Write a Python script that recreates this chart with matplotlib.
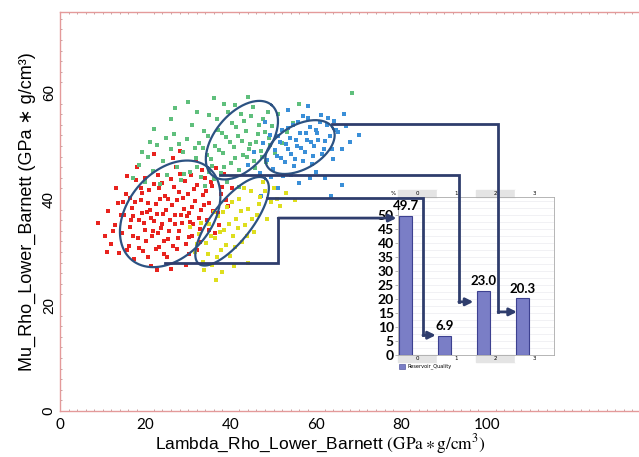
import numpy as np
import matplotlib
matplotlib.use("Agg")
import matplotlib.pyplot as plt
from matplotlib.patches import Rectangle

plt.rcParams['mathtext.fontset'] = 'stix'

# cluster points (Lambda-Rho, Mu-Rho)
red_x = [9.0, 10.5, 11.2, 12.0, 12.8, 13.5, 13.9, 14.6, 15.0, 15.4, 16.1, 16.5, 16.9, 17.3, 17.8, 18.2,
         18.6, 19.0, 19.5, 19.9, 20.3, 20.8, 21.2, 21.6, 22.0, 22.4, 22.9, 23.3, 23.7, 24.1, 24.6, 25.0,
         25.4, 25.8, 26.2, 26.7, 27.1, 27.5, 27.9, 28.4, 28.8, 29.2, 29.6, 30.1, 30.5, 30.9, 31.4, 31.8,
         32.2, 32.7, 33.1, 33.6, 34.0, 34.5, 35.0, 35.6, 36.2, 36.9, 37.6, 38.4, 39.3, 40.2, 18.0, 22.0,
         15.8, 13.0, 20.5, 26.0, 24.0, 28.0, 11.0, 17.0, 21.0, 23.0, 27.0, 19.2, 25.3, 29.8, 31.0,
         14.2, 15.6, 16.3, 17.1, 17.6, 18.4, 18.9, 19.6, 20.1, 20.6, 21.4, 21.9, 22.5, 22.7, 23.5, 23.9,
         24.4, 24.8, 25.6, 25.9, 26.4, 26.9, 27.3, 27.7, 28.1, 28.6, 29.0, 29.4, 29.9, 30.3, 30.7, 31.2,
         31.6, 32.0, 32.5, 32.9, 33.3, 33.8, 34.3, 34.8, 35.3, 35.9, 36.6, 37.3, 38.0, 38.8, 16.7, 19.3,
         21.8, 23.2, 24.3, 27.8, 30.2, 12.3, 14.8, 20.0, 26.5, 22.6]
red_y = [35.5, 33.0, 37.8, 31.5, 35.0, 39.2, 29.8, 33.6, 36.9, 41.0, 31.2, 34.8, 38.3, 28.6, 43.5, 32.7,
         36.0, 39.8, 30.1, 34.2, 37.5, 41.7, 27.4, 33.1, 35.8, 39.0, 44.6, 31.0, 34.5, 37.2, 40.5, 29.0,
         32.4, 36.1, 38.8, 42.3, 46.0, 30.6, 34.0, 37.0, 40.1, 43.4, 27.6, 32.8, 35.6, 38.5, 41.8, 47.5,
         30.3, 34.4, 37.9, 40.7, 44.0, 36.0, 39.3, 42.5, 33.5, 37.4, 40.9, 44.7, 38.6, 42.0, 46.0, 48.5,
         44.3, 42.0, 29.0, 26.8, 43.0, 49.0, 30.0, 36.8, 38.0, 33.6, 35.2, 41.2, 40.0, 36.7, 33.0,
         37.0, 30.4, 40.2, 33.0, 39.5, 30.8, 42.1, 35.4, 32.0, 39.2, 36.4, 42.8, 30.5, 37.1, 40.0, 35.3,
         32.1, 38.0, 34.0, 43.8, 31.2, 36.9, 39.9, 32.6, 44.8, 35.4, 38.2, 31.5, 41.0, 37.3, 44.5, 35.3,
         39.7, 42.7, 36.5, 31.8, 45.5, 38.8, 41.6, 34.2, 43.2, 37.8, 45.8, 35.0, 42.3, 39.8, 36.1, 37.3,
         34.0, 42.0, 29.6, 41.4, 29.6, 34.0, 39.5, 44.0, 47.8, 26.6]

green_x = [17.0, 18.5, 19.8, 20.5, 21.7, 22.8, 23.5, 24.2, 25.1, 25.9, 26.8, 27.4, 28.3, 28.9, 29.7, 30.4,
           31.0, 31.8, 32.5, 33.1, 33.8, 34.4, 35.0, 35.7, 36.3, 36.9, 37.6, 38.2, 38.8, 39.4, 40.0, 40.7,
           41.3, 41.9, 42.6, 43.2, 43.8, 44.5, 45.1, 45.7, 46.4, 47.0, 47.6, 48.3, 48.9, 49.6, 50.3, 51.0,
           52.0, 53.2, 54.5, 56.0, 30.0, 36.0, 44.0, 26.0, 22.0, 39.0, 34.0, 42.0, 68.5,
           33.5, 34.7, 35.3, 36.7, 37.3, 37.9, 38.5, 39.7, 40.3, 40.9, 41.6, 42.3, 42.9, 43.6, 44.2, 44.8,
           45.4, 46.0, 46.7, 47.3, 48.0, 48.6, 49.2, 27.9, 29.0, 31.5, 32.2, 34.9, 24.8, 21.0, 38.5, 41.0,
           27.0, 19.2, 32.0, 36.0]
green_y = [44.0, 46.5, 43.2, 48.0, 45.3, 50.1, 42.8, 47.2, 44.6, 49.5, 52.3, 46.0, 43.5, 48.8, 51.4, 45.1,
           54.0, 47.7, 50.6, 44.2, 52.8, 48.3, 55.8, 46.2, 50.0, 53.1, 44.9, 48.6, 51.7, 56.5, 46.8, 49.9,
           53.6, 45.5, 51.0, 54.7, 47.9, 50.4, 57.3, 45.8, 52.2, 49.0, 55.0, 47.0, 51.5, 53.8, 48.7, 56.0,
           50.5, 52.6, 54.3, 58.0, 58.3, 59.0, 59.2, 55.0, 53.2, 43.2, 42.5, 42.2, 60.0,
           49.6, 51.9, 47.6, 55.0, 49.2, 52.5, 46.0, 50.8, 54.3, 47.8, 51.9, 56.1, 48.3, 52.9, 49.4, 55.6,
           47.2, 50.8, 54.0, 48.0, 52.7, 56.5, 50.1, 50.3, 44.7, 49.7, 56.4, 45.0, 51.5, 50.8, 58.0, 57.8,
           57.2, 48.8, 46.0, 43.8]

blue_x = [44.0, 45.5, 46.8, 47.6, 48.4, 49.1, 49.8, 50.4, 51.0, 51.7, 52.3, 52.9, 53.5, 54.1, 54.7, 55.2,
          55.8, 56.4, 57.0, 57.5, 58.1, 58.7, 59.3, 59.9, 60.5, 61.1, 61.8, 62.5, 63.3, 64.2, 65.2, 66.5,
          68.0, 56.0, 60.0, 64.0, 51.0, 47.0, 53.5, 58.0, 62.0, 63.5, 66.0,
          50.8, 51.5, 52.1, 52.7, 53.3, 53.9, 54.5, 55.0, 55.6, 56.2, 56.8, 57.3, 57.9, 58.5, 59.1, 59.6,
          60.2, 60.8, 61.4, 62.0, 62.8, 63.7, 64.6, 49.5, 54.0, 58.5, 66.0, 67.0, 70.0, 48.0]
blue_y = [46.5, 48.8, 44.9, 50.5, 47.3, 52.1, 45.6, 49.2, 51.8, 47.8, 44.3, 50.3, 53.4, 48.5, 46.2, 51.2,
          54.6, 49.6, 47.1, 52.4, 55.2, 50.7, 48.2, 53.0, 51.1, 55.8, 49.5, 53.9, 51.8, 54.8, 52.7, 56.0,
          50.8, 43.0, 45.0, 47.5, 42.0, 40.6, 56.7, 57.5, 44.0, 40.5, 42.6,
          48.1, 50.7, 53.0, 46.9, 49.4, 51.6, 54.0, 47.5, 50.0, 52.5, 55.6, 48.8, 51.2, 53.6, 46.6, 50.0,
          52.5, 54.6, 48.5, 51.0, 55.3, 49.5, 53.0, 44.2, 44.6, 44.0, 49.5, 53.8, 52.0, 54.6]

yellow_x = [31.5, 32.6, 33.4, 34.2, 35.0, 35.7, 36.4, 37.1, 37.8, 38.5, 39.2, 39.9, 40.6, 41.3, 42.0, 42.7,
            43.4, 44.1, 44.8, 45.5, 46.2, 46.9, 47.6, 48.4, 49.3, 50.2, 51.5, 53.0, 55.0, 36.5, 38.0, 30.5, 44.0,
            32.0, 33.0, 34.6, 35.4, 36.1, 36.8, 37.5, 38.2, 38.9, 39.6, 40.3, 41.0, 41.7, 42.4, 43.0, 43.8,
            45.0, 46.5, 48.0, 50.8, 33.8, 40.8]
yellow_y = [30.0, 33.4, 28.2, 31.7, 35.3, 27.5, 32.6, 36.8, 30.4, 34.1, 38.5, 29.3, 33.0, 36.3, 40.0, 31.8,
            35.0, 38.2, 41.6, 33.7, 37.0, 40.4, 43.3, 36.2, 39.5, 42.0, 38.6, 41.2, 39.8, 24.8, 26.2, 34.8, 28.0,
            31.5, 35.5, 29.6, 33.0, 37.6, 29.0, 33.8, 37.6, 31.3, 35.2, 39.5, 31.0, 34.5, 37.8, 42.0, 33.0,
            36.2, 39.0, 41.6, 40.0, 26.6, 27.4]

# inset bar chart
classes = ['0', '1', '2', '3']
percent = [49.7, 6.9, 23.0, 20.3]

px_x = 4.27   # pixels per x unit
px_y = 5.3    # pixels per y unit

fig = plt.figure(figsize=(6.39, 4.57), dpi=100)
ax = fig.add_axes([60/639, 46/457, 579/639, 399/457])
ax.set_xlim(0, 579/px_x)
ax.set_ylim(0, 399/px_y)

ax.scatter(red_x, red_y, s=6, marker='s', color='#e8231e', linewidths=0)
ax.scatter(green_x, green_y, s=6, marker='s', color='#5fbf7c', linewidths=0)
ax.scatter(blue_x, blue_y, s=6, marker='s', color='#3a8fd8', linewidths=0)
ax.scatter(yellow_x, yellow_y, s=6, marker='s', color='#dede1e', linewidths=0)

# cluster ellipses: centre in data units, semi axes in pixels, tilt in degrees
def ring(cx, cy, a, b, ang):
    t = np.linspace(0, 2*np.pi, 200)
    th = np.radians(ang)
    dx = a*np.cos(t)*np.cos(th) - b*np.sin(t)*np.sin(th)
    dy = a*np.cos(t)*np.sin(th) + b*np.sin(t)*np.cos(th)
    ax.plot(cx + dx/px_x, cy + dy/px_y, color='#2c5282', lw=1.6, zorder=3)

ring(25.8, 37.2, 60, 42, 50)
ring(42.6, 51.1, 46, 27, 50)
ring(56.2, 49.8, 38, 22, 30)
ring(40.3, 35.8, 54, 20, 52)

ax.set_xticks([0, 20, 40, 60, 80, 100])
ax.set_yticks([0, 20, 40, 60])
ax.set_xticks(np.arange(0, 136, 2), minor=True)
ax.set_yticks(np.arange(0, 76, 2), minor=True)
ax.tick_params(which='major', length=0, labelsize=11)
ax.tick_params(axis='x', which='major', pad=5)
ax.tick_params(axis='y', which='major', pad=3)
ax.tick_params(which='minor', length=1.5, direction='in', color='#b08080', width=0.5, top=True)
for lab in ax.get_xticklabels():
    lab.set_family('Lato')
for lab in ax.get_yticklabels():
    lab.set_rotation(90)
    lab.set_va('center')
    lab.set_family('Liberation Sans')
for s in ['left', 'bottom', 'top']:
    ax.spines[s].set_color('#e49a9a')
    ax.spines[s].set_linewidth(1.0)
ax.spines['right'].set_visible(False)

ax.set_ylabel('Mu_Rho_Lower_Barnett (GPa ∗ g/cm³)', fontsize=13,
              family=['Liberation Sans', 'DejaVu Sans'], labelpad=4)
fig.text(320/639, 13/457, r'Lambda_Rho_Lower_Barnett $\mathrm{(GPa}\ast\mathrm{g/cm}^{3}\mathrm{)}$',
         fontsize=12.5, family='Liberation Sans', ha='center', va='center')

# inset histogram of reservoir quality
ins = fig.add_axes([398/639, (457-355)/457, 156/639, 158/457])
ins.set_xlim(-0.5, 3.5)
ins.set_ylim(0, 158/2.8)
for v in np.arange(2.5, 57, 2.5):
    ins.axhline(v, color='#ececf0', lw=0.5, zorder=0)
xs = np.arange(len(classes))
ins.bar(xs - 0.47, percent, width=0.33, align='edge', color='#7a7ec6', edgecolor='#3d4190', lw=0.8, zorder=2)
for x, v in zip(xs, percent):
    ins.text(x - 0.305, v + 1.2, f'{v:.1f}', ha='center', va='bottom', fontsize=9.5,
             fontweight='bold', family='Lato')
ins.set_yticks(np.arange(0, 51, 5))
ins.set_yticklabels([str(v) for v in range(0, 51, 5)], fontsize=10, fontweight='bold', family='Lato')
ins.tick_params(axis='y', length=2, width=0.5, color='#999999', pad=1)
ins.set_xticks([])
for s in ins.spines.values():
    s.set_color('#aaaaaa')
    s.set_linewidth(0.6)
tr = ins.get_xaxis_transform()
for i, c in enumerate(classes):
    shade = '#e4e4e4' if i % 2 == 0 else 'white'
    for y0 in (1.0, -0.045):
        ins.add_patch(Rectangle((i - 0.5, y0), 1, 0.045, transform=tr, color=shade,
                                clip_on=False, zorder=1))
        ins.text(i, y0 + 0.022, c, transform=tr, fontsize=4, ha='center', va='center')
ins.text(-0.62, 1.022, '%', transform=tr, fontsize=4, ha='center', va='center')
fig.patches.append(Rectangle((399/639, (457-369)/457), 6/639, 5/457, transform=fig.transFigure,
                             facecolor='#7a7ec6', edgecolor='#3d4190', lw=0.4))
fig.text(407/639, (457-366.5)/457, 'Reservoir_Quality', fontsize=3.6, va='center')

# connector arrows drawn over both axes
top = fig.add_axes(ax.get_position().bounds, zorder=5)
top.set_xlim(ax.get_xlim())
top.set_ylim(ax.get_ylim())
top.axis('off')
paths = [
    ([63.7, 102.6, 102.6], [54.2, 54.2, 18.7], (107.0, 18.7)),
    ([37.5, 93.4, 93.4], [44.5, 44.5, 20.6], (96.8, 20.6)),
    ([48.5, 85.0, 85.0], [40.2, 40.2, 14.3], (88.0, 14.3)),
    ([24.5, 51.1, 51.1], [27.9, 27.9, 36.4], (78.8, 36.4)),
]
for px, py, tip in paths:
    top.plot(px, py, color='#2f3d6d', lw=2, solid_joinstyle='miter')
    top.annotate('', xy=tip, xytext=(px[-1], py[-1]),
                 arrowprops=dict(arrowstyle='-|>', color='#2f3d6d', lw=2, mutation_scale=11,
                                 shrinkA=0, shrinkB=0))

fig.savefig('out.png', dpi=100)
